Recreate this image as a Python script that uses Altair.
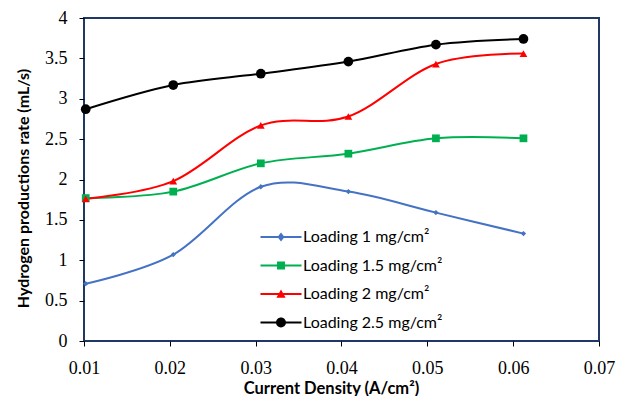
import altair as alt
import pandas as pd

# ---- data ----
current_density = [0.0102, 0.0204, 0.0306, 0.0408, 0.0510, 0.0612]
loading_1 = [0.71, 1.07, 1.91, 1.85, 1.59, 1.33]
loading_15 = [1.77, 1.85, 2.20, 2.32, 2.51, 2.51]
loading_2 = [1.76, 1.98, 2.67, 2.78, 3.43, 3.56]
loading_25 = [2.87, 3.17, 3.31, 3.46, 3.67, 3.74]

series_names = ["Loading 1 mg/cm²", "Loading 1.5 mg/cm²", "Loading 2 mg/cm²", "Loading 2.5 mg/cm²"]
series_values = [loading_1, loading_15, loading_2, loading_25]
series_colors = ["#4472C4", "#00B050", "#FF0000", "#000000"]
series_shapes = ["diamond", "square", "triangle-up", "circle"]
series_sizes = [28, 60, 60, 95]

x_ticks = [0.01, 0.02, 0.03, 0.04, 0.05, 0.06, 0.07]
y_ticks = [0, 0.5, 1, 1.5, 2, 2.5, 3, 3.5, 4]

# legend symbols: line segment + marker (custom SVG paths, unit = 7px)
line_part = "M-2.93,-0.14L2.93,-0.14L2.93,0.14L-2.93,0.14Z"
legend_markers = [
    "M0,-0.64L0.5,0L0,0.64L-0.5,0Z",
    "M-0.57,-0.57L0.57,-0.57L0.57,0.57L-0.57,0.57Z",
    "M0,-0.66L0.66,0.52L-0.66,0.52Z",
    "M0.71,0A0.71,0.71,0,1,1,-0.71,0A0.71,0.71,0,1,1,0.71,0Z",
]
legend_paths = [line_part + m for m in legend_markers]

rows = []
for name, vals in zip(series_names, series_values):
    for xv, yv in zip(current_density, vals):
        rows.append({"series": name, "x": xv, "y": yv})
df = pd.DataFrame(rows)

x_enc = alt.X(
    "x:Q",
    scale=alt.Scale(domain=[0.01, 0.07], nice=False, zero=False),
    axis=alt.Axis(
        values=x_ticks, format=".2f", title="Current Density (A/cm²)",
        titleX=247, titleY=52, titleBaseline="alphabetic", titleAnchor="start", titleAlign="center",
        titleFontSize=16.5,
    ),
)
y_enc = alt.Y(
    "y:Q",
    scale=alt.Scale(domain=[0, 4], nice=False),
    axis=alt.Axis(
        values=y_ticks, format="~g", title="Hydrogen productions rate (mL/s)",
        titleX=-61, titleY=170, titleBaseline="middle", titleAngle=270, titleAlign="center",
        titleAnchor="start", titleFontSize=16,
    ),
)

color_scale = alt.Scale(domain=series_names, range=series_colors)
shape_scale = alt.Scale(domain=series_names, range=legend_paths)

legend = alt.Legend(
    title=None, orient="none", legendX=189, legendY=211,
    symbolSize=196, symbolStrokeWidth=0, symbolOffset=0, symbolOpacity=1,
    labelFont="Lato", labelFontSize=16, labelColor="#000000", labelOffset=14,
    rowPadding=12.5, padding=0, labelLimit=300,
)

# invisible points that only carry the legend (color + shape)
legend_layer = alt.Chart(df).mark_point(filled=True, size=0, opacity=1).encode(
    x=x_enc, y=y_enc,
    color=alt.Color("series:N", scale=color_scale, legend=legend),
    shape=alt.Shape("series:N", scale=shape_scale, legend=legend),
)

layers = [legend_layer]
for name, col in zip(series_names, series_colors):
    layers.append(
        alt.Chart(df).transform_filter(alt.datum.series == name).mark_line(
            interpolate="cardinal", tension=0, strokeWidth=2, color=col
        ).encode(x=x_enc, y=y_enc)
    )
for name, col, shp, sz in zip(series_names, series_colors, series_shapes, series_sizes):
    layers.append(
        alt.Chart(df).transform_filter(alt.datum.series == name).mark_point(
            filled=True, shape=shp, size=sz, color=col, opacity=1
        ).encode(x=x_enc, y=y_enc)
    )

chart = alt.layer(*layers).properties(
    width=515, height=323,
    autosize=alt.AutoSizeParams(type="none"),
    padding={"left": 76, "top": 10, "right": 19, "bottom": 55},
).configure_view(
    stroke="#1F3864", strokeWidth=2
).configure_axis(
    grid=False, domain=False, labelFlush=False,
    ticks=True, tickSize=5, tickColor="#000000", tickWidth=1,
    labelFont="Liberation Serif", labelFontSize=18, labelColor="#000000",
    titleFont="Lato", titleFontSize=15, titleFontWeight="bold", titleColor="#000000",
).configure_axisX(
    labelPadding=13,
).configure_axisY(
    labelPadding=12,
)

chart.save("out.html", embed_options={"renderer": "svg", "actions": False})
